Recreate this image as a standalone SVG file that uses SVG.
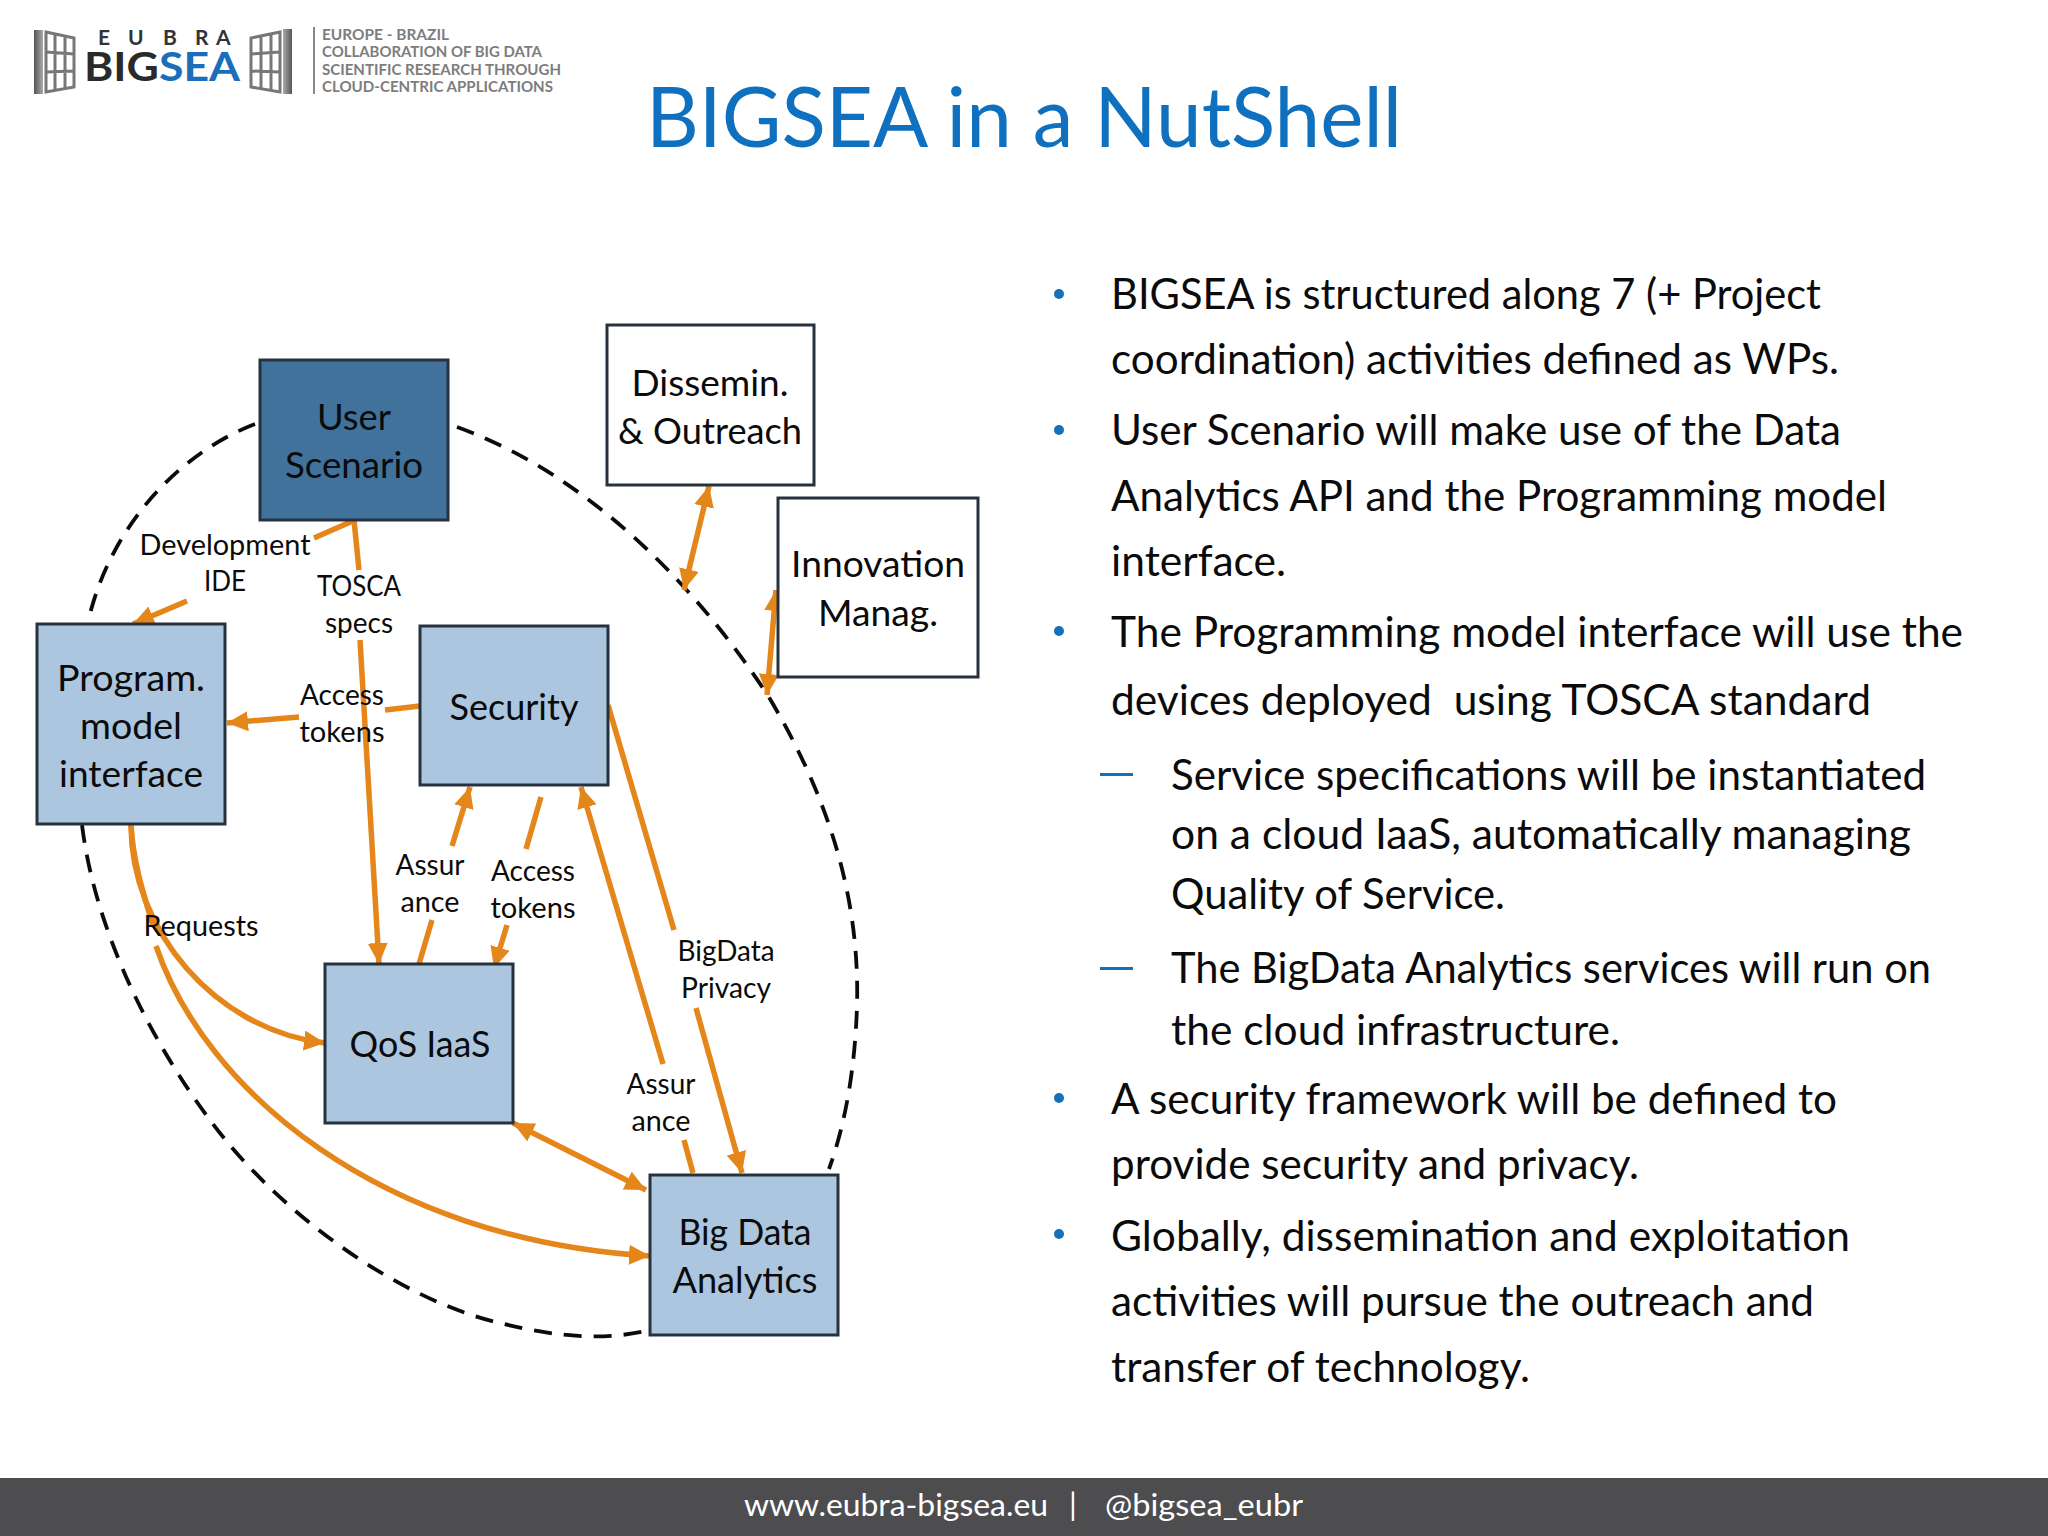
<svg xmlns="http://www.w3.org/2000/svg" width="2048" height="1536" viewBox="0 0 2048 1536">
<style>
text{font-family:Lato,"Liberation Sans",sans-serif;fill:#0b0b0b}
.box{stroke:#26323e;stroke-width:3}
.lb{fill:#abc6de}.db{fill:#41729c}.wb{fill:#fff}
.n{font-size:37px;text-anchor:middle}
.e{font-size:29px;text-anchor:middle}
.b{font-size:42px}
.c{fill:none;stroke:#e5861a;stroke-width:5.5}
.d{fill:none;stroke:#0b0b0b;stroke-width:3.8;stroke-dasharray:18 12}
.lg{font-size:15px;fill:#7d7d7d;font-weight:700}
.w{fill:none;stroke:#777;stroke-width:3}
</style>
<defs>
<marker id="a" markerUnits="userSpaceOnUse" markerWidth="24" markerHeight="22" refX="21" refY="10" orient="auto-start-reverse"><path d="M0 0L21 10L0 20z" fill="#e5861a"/></marker>
<linearGradient id="g1" x1="0" x2="1" y1="0" y2="0"><stop offset="0" stop-color="#555"/><stop offset="1" stop-color="#aaa"/></linearGradient>
</defs>
<rect width="2048" height="1536" fill="#fff"/>
<g id="logo">
<rect x="34" y="30" width="9" height="64" fill="url(#g1)"/>
<path class="w" d="M46 32L74 38V87L46 92zM55 33V91M65 36V89M46 52L74 54M46 72L74 71"/>
<rect x="283" y="29" width="9" height="65" fill="url(#g1)" transform="rotate(180 287.5 61.5)"/>
<path class="w" d="M280 32L251 38V87L280 92zM271 33V91M261 36V89M251 54L280 52M251 71L280 72"/>
<text x="98 128 163 195 216" y="45" style="font-size:21px;font-weight:700;fill:#333">EUBRA</text>
<text x="84" y="81" style="font-size:40px;font-weight:700;fill:#2a2a2a" textLength="156" lengthAdjust="spacingAndGlyphs">BIG<tspan style="fill:#1b6fba">SEA</tspan></text>
<rect x="313" y="27" width="2" height="67" fill="#888"/>
<text class="lg" x="322" y="40" textLength="127" lengthAdjust="spacingAndGlyphs">EUROPE - BRAZIL</text>
<text class="lg" x="322" y="57" textLength="220" lengthAdjust="spacingAndGlyphs">COLLABORATION OF BIG DATA</text>
<text class="lg" x="322" y="75" textLength="239" lengthAdjust="spacingAndGlyphs">SCIENTIFIC RESEARCH THROUGH</text>
<text class="lg" x="322" y="92" textLength="231" lengthAdjust="spacingAndGlyphs">CLOUD-CENTRIC APPLICATIONS</text>
</g>
<text id="title" x="646" y="147" style="font-size:84px;fill:#0e70be" textLength="756" lengthAdjust="spacingAndGlyphs">BIGSEA in a NutShell</text>
<g id="dashes">
<path class="d" d="M255 424C175 455 110 530 89 618"/>
<path class="d" d="M82 825C95 930 150 1040 210 1120C280 1215 400 1300 500 1323C560 1338 605 1340 646 1331"/>
<path class="d" d="M457 427C590 475 700 590 770 699C830 800 860 900 857 1006C855 1070 845 1125 829 1169"/>
</g>
<g id="connectors">
<path class="c" d="M355 520L314 538"/>
<path class="c" d="M187 601L133 624" marker-end="url(#a)"/>
<path class="c" d="M354 520L359 570"/>
<path class="c" d="M360 640L379 964" marker-end="url(#a)"/>
<path class="c" d="M420 706L385 710"/>
<path class="c" d="M299 717L227 723" marker-end="url(#a)"/>
<path class="c" d="M419 964L432 920"/>
<path class="c" d="M452 846L470 787" marker-end="url(#a)"/>
<path class="c" d="M541 797L526 849"/>
<path class="c" d="M507 925L494 968" marker-end="url(#a)"/>
<path class="c" d="M693 1173L684 1140"/>
<path class="c" d="M663 1064L581 787" marker-end="url(#a)"/>
<path class="c" d="M608 705L674 930"/>
<path class="c" d="M696 1008L742 1173" marker-end="url(#a)"/>
<path class="c" d="M513 1123L646 1190" marker-start="url(#a)" marker-end="url(#a)"/>
<path class="c" d="M709 486L684 590" marker-start="url(#a)" marker-end="url(#a)"/>
<path class="c" d="M776 590L767 695" marker-start="url(#a)" marker-end="url(#a)"/>
<path class="c" d="M131 825C131 930 215 1030 325 1043" marker-end="url(#a)"/>
<path class="c" d="M131 825C133 860 142 890 153 925"/>
<path class="c" d="M156 946C205 1090 380 1240 650 1256" marker-end="url(#a)"/>
</g>
<g id="user-scenario"><rect class="box db" x="260" y="360" width="188" height="160"/><text class="n" x="354" y="430" textLength="74" lengthAdjust="spacingAndGlyphs">User</text><text class="n" x="354" y="478" textLength="138" lengthAdjust="spacingAndGlyphs">Scenario</text></g>
<g id="dissemination"><rect class="box wb" x="607" y="325" width="207" height="160"/><text class="n" x="710" y="396" textLength="157" lengthAdjust="spacingAndGlyphs">Dissemin.</text><text class="n" x="710" y="444" textLength="184" lengthAdjust="spacingAndGlyphs">&amp; Outreach</text></g>
<g id="innovation"><rect class="box wb" x="778" y="498" width="200" height="179"/><text class="n" x="878" y="577" textLength="174" lengthAdjust="spacingAndGlyphs">Innovation</text><text class="n" x="878" y="626" textLength="120" lengthAdjust="spacingAndGlyphs">Manag.</text></g>
<g id="program-model"><rect class="box lb" x="37" y="624" width="188" height="200"/><text class="n" x="131" y="691" textLength="148" lengthAdjust="spacingAndGlyphs">Program.</text><text class="n" x="131" y="739" textLength="102" lengthAdjust="spacingAndGlyphs">model</text><text class="n" x="131" y="787" textLength="144" lengthAdjust="spacingAndGlyphs">interface</text></g>
<g id="security"><rect class="box lb" x="420" y="626" width="188" height="159"/><text class="n" x="514" y="720" textLength="129" lengthAdjust="spacingAndGlyphs">Security</text></g>
<g id="qos-iaas"><rect class="box lb" x="325" y="964" width="188" height="159"/><text class="n" x="420" y="1057" textLength="141" lengthAdjust="spacingAndGlyphs">QoS IaaS</text></g>
<g id="big-data"><rect class="box lb" x="650" y="1175" width="188" height="160"/><text class="n" x="745" y="1245" textLength="133" lengthAdjust="spacingAndGlyphs">Big Data</text><text class="n" x="745" y="1293" textLength="145" lengthAdjust="spacingAndGlyphs">Analytics</text></g>
<g id="edge-labels">
<text class="e" x="225" y="555" textLength="171" lengthAdjust="spacingAndGlyphs">Development</text><text class="e" x="225" y="591" textLength="42" lengthAdjust="spacingAndGlyphs">IDE</text>
<text class="e" x="359" y="596" textLength="84" lengthAdjust="spacingAndGlyphs">TOSCA</text><text class="e" x="359" y="633" textLength="68" lengthAdjust="spacingAndGlyphs">specs</text>
<text class="e" x="342" y="705" textLength="84" lengthAdjust="spacingAndGlyphs">Access</text><text class="e" x="342" y="742" textLength="85" lengthAdjust="spacingAndGlyphs">tokens</text>
<text class="e" x="430" y="875" textLength="69" lengthAdjust="spacingAndGlyphs">Assur</text><text class="e" x="430" y="912" textLength="59" lengthAdjust="spacingAndGlyphs">ance</text>
<text class="e" x="533" y="881" textLength="84" lengthAdjust="spacingAndGlyphs">Access</text><text class="e" x="533" y="918" textLength="85" lengthAdjust="spacingAndGlyphs">tokens</text>
<text class="e" x="201" y="936" textLength="115" lengthAdjust="spacingAndGlyphs">Requests</text>
<text class="e" x="726" y="961" textLength="97" lengthAdjust="spacingAndGlyphs">BigData</text><text class="e" x="726" y="998" textLength="90" lengthAdjust="spacingAndGlyphs">Privacy</text>
<text class="e" x="661" y="1094" textLength="69" lengthAdjust="spacingAndGlyphs">Assur</text><text class="e" x="661" y="1131" textLength="59" lengthAdjust="spacingAndGlyphs">ance</text>
</g>
<g id="body" fill="#1570b8">
<circle cx="1059" cy="294" r="5"/><circle cx="1059" cy="430" r="5"/><circle cx="1059" cy="631" r="5"/><circle cx="1059" cy="1098" r="5"/><circle cx="1059" cy="1234" r="5"/>
<rect x="1100" y="773" width="33" height="3"/><rect x="1100" y="967" width="33" height="3"/>
<text class="b" x="1111" y="309" textLength="710" lengthAdjust="spacingAndGlyphs">BIGSEA is structured along 7 (+ Project</text>
<text class="b" x="1111" y="374" textLength="728" lengthAdjust="spacingAndGlyphs">coordination) activities defined as WPs.</text>
<text class="b" x="1111" y="445" textLength="730" lengthAdjust="spacingAndGlyphs">User Scenario will make use of the Data</text>
<text class="b" x="1111" y="511" textLength="776" lengthAdjust="spacingAndGlyphs">Analytics API and the Programming model</text>
<text class="b" x="1111" y="576" textLength="175" lengthAdjust="spacingAndGlyphs">interface.</text>
<text class="b" x="1111" y="647" textLength="852" lengthAdjust="spacingAndGlyphs">The Programming model interface will use the</text>
<text class="b" x="1111" y="715" textLength="760" lengthAdjust="spacingAndGlyphs" xml:space="preserve">devices deployed  using TOSCA standard</text>
<text class="b" x="1171" y="790" textLength="755" lengthAdjust="spacingAndGlyphs">Service specifications will be instantiated</text>
<text class="b" x="1171" y="849" textLength="740" lengthAdjust="spacingAndGlyphs">on a cloud IaaS, automatically managing</text>
<text class="b" x="1171" y="909" textLength="334" lengthAdjust="spacingAndGlyphs">Quality of Service.</text>
<text class="b" x="1171" y="983" textLength="760" lengthAdjust="spacingAndGlyphs">The BigData Analytics services will run on</text>
<text class="b" x="1171" y="1045" textLength="449" lengthAdjust="spacingAndGlyphs">the cloud infrastructure.</text>
<text class="b" x="1111" y="1114" textLength="726" lengthAdjust="spacingAndGlyphs">A security framework will be defined to</text>
<text class="b" x="1111" y="1179" textLength="528" lengthAdjust="spacingAndGlyphs">provide security and privacy.</text>
<text class="b" x="1111" y="1251" textLength="739" lengthAdjust="spacingAndGlyphs">Globally, dissemination and exploitation</text>
<text class="b" x="1111" y="1316" textLength="703" lengthAdjust="spacingAndGlyphs">activities will pursue the outreach and</text>
<text class="b" x="1111" y="1382" textLength="419" lengthAdjust="spacingAndGlyphs">transfer of technology.</text>
</g>
<g id="footer"><rect y="1478" width="2048" height="58" fill="#4d4d50"/><text y="1516" style="font-size:31px;fill:#fff"><tspan x="744" textLength="304" lengthAdjust="spacingAndGlyphs">www.eubra-bigsea.eu</tspan><tspan x="1069">|</tspan><tspan x="1105" textLength="198" lengthAdjust="spacingAndGlyphs">@bigsea_eubr</tspan></text></g>
</svg>
